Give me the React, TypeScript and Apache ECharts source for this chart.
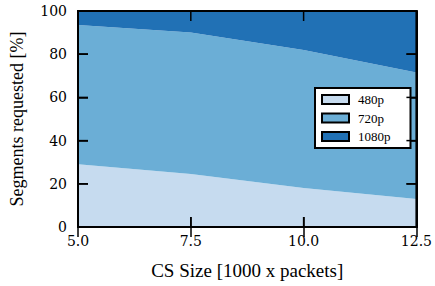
import React, { useEffect, useRef } from "react";
import * as echarts from "echarts";

const csSizes = [5.0, 7.5, 10.0, 12.5];
const seriesNames = ["480p", "720p", "1080p"];
const v480 = [29, 24.5, 18, 13];
const v720 = [64.5, 65.5, 64, 58.5];
const v1080 = [6.5, 10, 18, 28.5];
const colors = ["#c6dbef", "#6baed6", "#2171b5"];
const xTicks = [5.0, 7.5, 10.0, 12.5];
const yTicks = [0, 20, 40, 60, 80, 100];

const TICK_FONT = "DejaVu Serif";
const NAME_FONT = "Liberation Serif";

export default function App() {
  const ref = useRef<HTMLDivElement>(null);
  useEffect(() => {
    if (!ref.current) return;
    const chart = echarts.init(ref.current, null, { renderer: "svg" });
    const values = [v480, v720, v1080];
    const mkTick = () => ({ show: true, inside: true, length: 10, lineStyle: { color: "#000", width: 1.5 } });
    const mkLine = () => ({ show: true, lineStyle: { color: "#000", width: 2 } });
    const labelStyle = { fontFamily: TICK_FONT, fontSize: 14, color: "#000" };
    chart.setOption({
      animation: false,
      backgroundColor: "#fff",
      grid: { left: 77, right: 18, top: 11, bottom: 59, containLabel: false },
      legend: {
        show: true,
        orient: "vertical",
        left: 315,
        top: 88,
        z: 20,
        data: seriesNames,
        icon: "rect",
        itemWidth: 27,
        itemHeight: 9,
        itemGap: 5.5,
        padding: [5, 20, 5, 6],
        backgroundColor: "#fff",
        borderColor: "#000",
        borderWidth: 2,
        borderRadius: 0,
        textStyle: { fontFamily: NAME_FONT, fontSize: 13, color: "#000", padding: [0, 0, 0, 4] },
        itemStyle: { borderColor: "#000", borderWidth: 2 },
      },
      xAxis: [
        {
          type: "value",
          min: xTicks[0],
          max: xTicks[xTicks.length - 1],
          interval: 2.5,
          z: 10,
          name: "CS Size [1000 x packets]",
          nameLocation: "middle",
          nameGap: 34,
          nameTextStyle: { fontFamily: NAME_FONT, fontSize: 19, color: "#000" },
          axisLine: mkLine(),
          axisTick: mkTick(),
          splitLine: { show: false },
          axisLabel: { ...labelStyle, margin: 7, formatter: (v: number) => v.toFixed(1) },
        },
        {
          type: "value",
          position: "top",
          min: xTicks[0],
          max: xTicks[xTicks.length - 1],
          interval: 2.5,
          z: 10,
          axisLine: mkLine(),
          axisTick: mkTick(),
          axisLabel: { show: false },
          splitLine: { show: false },
        },
      ],
      yAxis: [
        {
          type: "value",
          min: yTicks[0],
          max: yTicks[yTicks.length - 1],
          interval: 20,
          z: 10,
          name: "Segments requested [%]",
          nameLocation: "middle",
          nameGap: 52,
          nameTextStyle: { fontFamily: NAME_FONT, fontSize: 18, color: "#000" },
          axisLine: mkLine(),
          axisTick: mkTick(),
          splitLine: { show: false },
          axisLabel: { ...labelStyle, margin: 11 },
        },
        {
          type: "value",
          position: "right",
          min: 0,
          max: 100,
          interval: 20,
          z: 10,
          axisLine: mkLine(),
          axisTick: mkTick(),
          axisLabel: { show: false },
          splitLine: { show: false },
        },
      ],
      series: seriesNames.map((name, i) => ({
        name,
        type: "line",
        stack: "total",
        symbol: "none",
        lineStyle: { width: 0 },
        itemStyle: { color: colors[i] },
        areaStyle: { color: colors[i], opacity: 1 },
        z: 1,
        // data as [value, csSize] so the stack is computed on the y dimension
        encode: { x: 1, y: 0 },
        data: csSizes.map((x, j) => [values[i][j], x]),
      })),
    });

    // Frame and mirrored ticks, positioned through the axes' own scales
    const px = (v: number) => chart.convertToPixel({ xAxisIndex: 0 }, v) as number;
    const py = (v: number) => chart.convertToPixel({ yAxisIndex: 0 }, v) as number;
    const x0 = px(xTicks[0]);
    const x1 = px(xTicks[xTicks.length - 1]);
    const yB = py(yTicks[0]);
    const yT = py(yTicks[yTicks.length - 1]);
    if ([x0, x1, yB, yT].every((v) => typeof v === "number" && isFinite(v))) {
      const stroke = { stroke: "#000", lineWidth: 1.5 };
      const els: any[] = [
        {
          type: "rect",
          z: 100,
          shape: { x: x0, y: yT, width: x1 - x0, height: yB - yT },
          style: { fill: "none", stroke: "#000", lineWidth: 2 },
          silent: true,
        },
      ];
      xTicks.slice(1, -1).forEach((t) => {
        const x = px(t);
        els.push({ type: "line", z: 100, silent: true, shape: { x1: x, y1: yB, x2: x, y2: yB - 10 }, style: stroke });
        els.push({ type: "line", z: 100, silent: true, shape: { x1: x, y1: yT, x2: x, y2: yT + 10 }, style: stroke });
      });
      yTicks.slice(1, -1).forEach((t) => {
        const y = py(t);
        els.push({ type: "line", z: 100, silent: true, shape: { x1: x0, y1: y, x2: x0 + 10, y2: y }, style: stroke });
        els.push({ type: "line", z: 100, silent: true, shape: { x1: x1, y1: y, x2: x1 - 10, y2: y }, style: stroke });
      });
      chart.setOption({ graphic: els });
    }
    return () => chart.dispose();
  }, []);
  return <div ref={ref} style={{ width: 435, height: 286, position: "absolute", left: 0, top: 0 }} />;
}
